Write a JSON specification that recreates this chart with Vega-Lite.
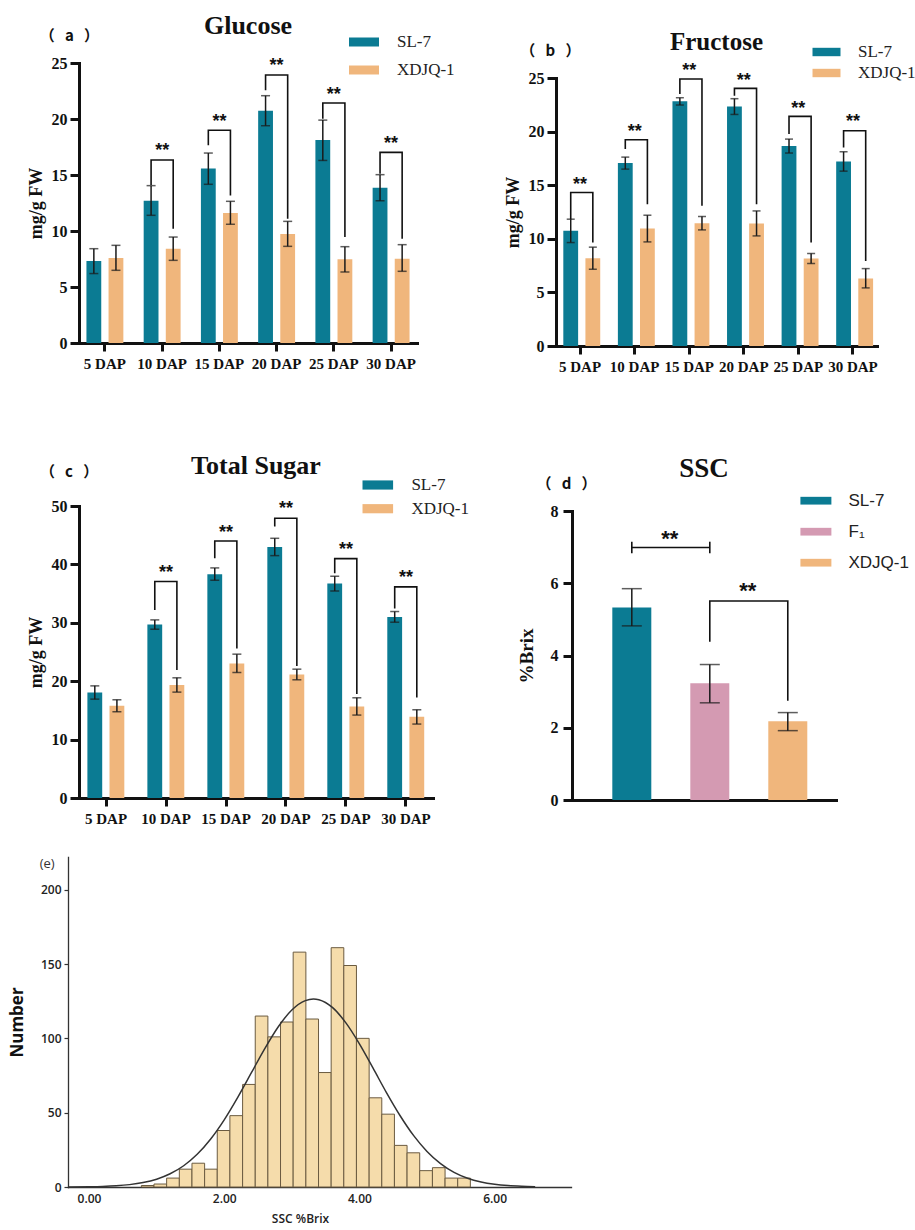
{
  "$schema": "https://vega.github.io/schema/vega-lite/v6.json",
  "background": "white",
  "padding": {"left": 8, "top": 12, "right": 5, "bottom": 5},
  "config": {
    "view": {"stroke": null},
    "axis": {"domainColor": "#111", "domainWidth": 3, "tickColor": "#111", "tickWidth": 3, "labelColor": "#111", "titleColor": "#111", "labelFont": "Liberation Serif", "labelFontWeight": "bold", "titleFont": "Liberation Serif", "titleFontWeight": "bold", "grid": false, "domainCap": "square"},
    "axisX": {"labelFontSize": 15, "tickSize": 8, "labelPadding": 5, "labelAngle": 0},
    "axisY": {"labelFontSize": 16, "tickSize": 9, "labelPadding": 3, "titleFontSize": 18, "titlePadding": 6},
    "legend": {"padding": 0, "symbolStrokeWidth": 0, "labelColor": "#222"}
  },
  "datasets": {
    "glu": [
      {"dap": "5 DAP", "series": "SL-7", "value": 7.32, "lo": 6.2, "hi": 8.42},
      {"dap": "5 DAP", "series": "XDJQ-1", "value": 7.59, "lo": 6.49, "hi": 8.72},
      {"dap": "10 DAP", "series": "SL-7", "value": 12.71, "lo": 11.4, "hi": 14.05},
      {"dap": "10 DAP", "series": "XDJQ-1", "value": 8.42, "lo": 7.38, "hi": 9.46},
      {"dap": "15 DAP", "series": "SL-7", "value": 15.57, "lo": 14.17, "hi": 16.96},
      {"dap": "15 DAP", "series": "XDJQ-1", "value": 11.6, "lo": 10.6, "hi": 12.65},
      {"dap": "20 DAP", "series": "SL-7", "value": 20.74, "lo": 19.4, "hi": 22.08},
      {"dap": "20 DAP", "series": "XDJQ-1", "value": 9.73, "lo": 8.63, "hi": 10.86},
      {"dap": "25 DAP", "series": "SL-7", "value": 18.13, "lo": 16.3, "hi": 19.9},
      {"dap": "25 DAP", "series": "XDJQ-1", "value": 7.47, "lo": 6.34, "hi": 8.6},
      {"dap": "30 DAP", "series": "SL-7", "value": 13.87, "lo": 12.7, "hi": 15.03},
      {"dap": "30 DAP", "series": "XDJQ-1", "value": 7.53, "lo": 6.4, "hi": 8.78}
    ],
    "gluBr": [
      {"dap": "10 DAP", "series": "SL-7", "y": 14.1, "o": 0}, {"dap": "10 DAP", "series": "SL-7", "y": 16.34, "o": 1}, {"dap": "10 DAP", "series": "XDJQ-1", "y": 16.34, "o": 2}, {"dap": "10 DAP", "series": "XDJQ-1", "y": 10.2, "o": 3},
      {"dap": "15 DAP", "series": "SL-7", "y": 17.65, "o": 0}, {"dap": "15 DAP", "series": "SL-7", "y": 18.99, "o": 1}, {"dap": "15 DAP", "series": "XDJQ-1", "y": 18.99, "o": 2}, {"dap": "15 DAP", "series": "XDJQ-1", "y": 13.18, "o": 3},
      {"dap": "20 DAP", "series": "SL-7", "y": 22.56, "o": 0}, {"dap": "20 DAP", "series": "SL-7", "y": 23.93, "o": 1}, {"dap": "20 DAP", "series": "XDJQ-1", "y": 23.93, "o": 2}, {"dap": "20 DAP", "series": "XDJQ-1", "y": 11.1, "o": 3},
      {"dap": "25 DAP", "series": "SL-7", "y": 20.03, "o": 0}, {"dap": "25 DAP", "series": "SL-7", "y": 21.43, "o": 1}, {"dap": "25 DAP", "series": "XDJQ-1", "y": 21.43, "o": 2}, {"dap": "25 DAP", "series": "XDJQ-1", "y": 9.46, "o": 3},
      {"dap": "30 DAP", "series": "SL-7", "y": 15.12, "o": 0}, {"dap": "30 DAP", "series": "SL-7", "y": 17.02, "o": 1}, {"dap": "30 DAP", "series": "XDJQ-1", "y": 17.02, "o": 2}, {"dap": "30 DAP", "series": "XDJQ-1", "y": 9.3, "o": 3}
    ],
    "gluStar": [
      {"dap": "10 DAP", "y": 17.6}, {"dap": "15 DAP", "y": 20.2}, {"dap": "20 DAP", "y": 25.15}, {"dap": "25 DAP", "y": 22.6}, {"dap": "30 DAP", "y": 18.2}
    ],
    "fru": [
      {"dap": "5 DAP", "series": "SL-7", "value": 10.74, "lo": 9.65, "hi": 11.83},
      {"dap": "5 DAP", "series": "XDJQ-1", "value": 8.19, "lo": 7.16, "hi": 9.22},
      {"dap": "10 DAP", "series": "SL-7", "value": 17.06, "lo": 16.5, "hi": 17.62},
      {"dap": "10 DAP", "series": "XDJQ-1", "value": 10.96, "lo": 9.71, "hi": 12.2},
      {"dap": "15 DAP", "series": "SL-7", "value": 22.82, "lo": 22.48, "hi": 23.16},
      {"dap": "15 DAP", "series": "XDJQ-1", "value": 11.46, "lo": 10.83, "hi": 12.08},
      {"dap": "20 DAP", "series": "SL-7", "value": 22.35, "lo": 21.6, "hi": 23.07},
      {"dap": "20 DAP", "series": "XDJQ-1", "value": 11.43, "lo": 10.27, "hi": 12.6},
      {"dap": "25 DAP", "series": "SL-7", "value": 18.65, "lo": 18.0, "hi": 19.3},
      {"dap": "25 DAP", "series": "XDJQ-1", "value": 8.16, "lo": 7.69, "hi": 8.62},
      {"dap": "30 DAP", "series": "SL-7", "value": 17.22, "lo": 16.31, "hi": 18.12},
      {"dap": "30 DAP", "series": "XDJQ-1", "value": 6.29, "lo": 5.42, "hi": 7.22}
    ],
    "fruBr": [
      {"dap": "5 DAP", "series": "SL-7", "y": 11.83, "o": 0}, {"dap": "5 DAP", "series": "SL-7", "y": 14.32, "o": 1}, {"dap": "5 DAP", "series": "XDJQ-1", "y": 14.32, "o": 2}, {"dap": "5 DAP", "series": "XDJQ-1", "y": 9.65, "o": 3},
      {"dap": "10 DAP", "series": "SL-7", "y": 18.37, "o": 0}, {"dap": "10 DAP", "series": "SL-7", "y": 19.24, "o": 1}, {"dap": "10 DAP", "series": "XDJQ-1", "y": 19.24, "o": 2}, {"dap": "10 DAP", "series": "XDJQ-1", "y": 13.23, "o": 3},
      {"dap": "15 DAP", "series": "SL-7", "y": 23.5, "o": 0}, {"dap": "15 DAP", "series": "SL-7", "y": 24.9, "o": 1}, {"dap": "15 DAP", "series": "XDJQ-1", "y": 24.9, "o": 2}, {"dap": "15 DAP", "series": "XDJQ-1", "y": 13.08, "o": 3},
      {"dap": "20 DAP", "series": "SL-7", "y": 23.35, "o": 0}, {"dap": "20 DAP", "series": "SL-7", "y": 24.03, "o": 1}, {"dap": "20 DAP", "series": "XDJQ-1", "y": 24.03, "o": 2}, {"dap": "20 DAP", "series": "XDJQ-1", "y": 13.23, "o": 3},
      {"dap": "25 DAP", "series": "SL-7", "y": 19.77, "o": 0}, {"dap": "25 DAP", "series": "SL-7", "y": 21.42, "o": 1}, {"dap": "25 DAP", "series": "XDJQ-1", "y": 21.42, "o": 2}, {"dap": "25 DAP", "series": "XDJQ-1", "y": 9.65, "o": 3},
      {"dap": "30 DAP", "series": "SL-7", "y": 18.52, "o": 0}, {"dap": "30 DAP", "series": "SL-7", "y": 20.08, "o": 1}, {"dap": "30 DAP", "series": "XDJQ-1", "y": 20.08, "o": 2}, {"dap": "30 DAP", "series": "XDJQ-1", "y": 7.94, "o": 3}
    ],
    "fruStar": [
      {"dap": "5 DAP", "y": 15.47}, {"dap": "10 DAP", "y": 20.46}, {"dap": "15 DAP", "y": 26.1}, {"dap": "20 DAP", "y": 25.2}, {"dap": "25 DAP", "y": 22.57}, {"dap": "30 DAP", "y": 21.33}
    ],
    "tot": [
      {"dap": "5 DAP", "series": "SL-7", "value": 18.07, "lo": 16.93, "hi": 19.2},
      {"dap": "5 DAP", "series": "XDJQ-1", "value": 15.79, "lo": 14.77, "hi": 16.82},
      {"dap": "10 DAP", "series": "SL-7", "value": 29.7, "lo": 28.9, "hi": 30.5},
      {"dap": "10 DAP", "series": "XDJQ-1", "value": 19.33, "lo": 18.13, "hi": 20.58},
      {"dap": "15 DAP", "series": "SL-7", "value": 38.31, "lo": 37.29, "hi": 39.4},
      {"dap": "15 DAP", "series": "XDJQ-1", "value": 23.03, "lo": 21.49, "hi": 24.63},
      {"dap": "20 DAP", "series": "SL-7", "value": 42.99, "lo": 41.5, "hi": 44.47},
      {"dap": "20 DAP", "series": "XDJQ-1", "value": 21.15, "lo": 20.24, "hi": 22.06},
      {"dap": "25 DAP", "series": "SL-7", "value": 36.72, "lo": 35.46, "hi": 37.97},
      {"dap": "25 DAP", "series": "XDJQ-1", "value": 15.68, "lo": 14.2, "hi": 17.16},
      {"dap": "30 DAP", "series": "SL-7", "value": 31.01, "lo": 30.1, "hi": 31.93},
      {"dap": "30 DAP", "series": "XDJQ-1", "value": 13.91, "lo": 12.66, "hi": 15.11}
    ],
    "totBr": [
      {"dap": "10 DAP", "series": "SL-7", "y": 32.2, "o": 0}, {"dap": "10 DAP", "series": "SL-7", "y": 37.06, "o": 1}, {"dap": "10 DAP", "series": "XDJQ-1", "y": 37.06, "o": 2}, {"dap": "10 DAP", "series": "XDJQ-1", "y": 21.9, "o": 3},
      {"dap": "15 DAP", "series": "SL-7", "y": 41.05, "o": 0}, {"dap": "15 DAP", "series": "SL-7", "y": 44.0, "o": 1}, {"dap": "15 DAP", "series": "XDJQ-1", "y": 44.0, "o": 2}, {"dap": "15 DAP", "series": "XDJQ-1", "y": 25.6, "o": 3},
      {"dap": "20 DAP", "series": "SL-7", "y": 46.47, "o": 0}, {"dap": "20 DAP", "series": "SL-7", "y": 47.9, "o": 1}, {"dap": "20 DAP", "series": "XDJQ-1", "y": 47.9, "o": 2}, {"dap": "20 DAP", "series": "XDJQ-1", "y": 22.6, "o": 3},
      {"dap": "25 DAP", "series": "SL-7", "y": 38.48, "o": 0}, {"dap": "25 DAP", "series": "SL-7", "y": 40.99, "o": 1}, {"dap": "25 DAP", "series": "XDJQ-1", "y": 40.99, "o": 2}, {"dap": "25 DAP", "series": "XDJQ-1", "y": 17.8, "o": 3},
      {"dap": "30 DAP", "series": "SL-7", "y": 32.44, "o": 0}, {"dap": "30 DAP", "series": "SL-7", "y": 36.15, "o": 1}, {"dap": "30 DAP", "series": "XDJQ-1", "y": 36.15, "o": 2}, {"dap": "30 DAP", "series": "XDJQ-1", "y": 17.2, "o": 3}
    ],
    "totStar": [
      {"dap": "10 DAP", "y": 39.45}, {"dap": "15 DAP", "y": 46.3}, {"dap": "20 DAP", "y": 50.4}, {"dap": "25 DAP", "y": 43.27}, {"dap": "30 DAP", "y": 38.5}
    ],
    "ssc": [
      {"g": "SL-7", "value": 5.33, "lo": 4.82, "hi": 5.85},
      {"g": "F₁", "value": 3.23, "lo": 2.69, "hi": 3.75},
      {"g": "XDJQ-1", "value": 2.18, "lo": 1.92, "hi": 2.42}
    ],
    "sscBr": [
      {"k": "c1", "g": "SL-7", "y": 6.83, "o": 0}, {"k": "c1", "g": "SL-7", "y": 7.15, "o": 1},
      {"k": "h", "g": "SL-7", "y": 6.99, "o": 0}, {"k": "h", "g": "F₁", "y": 6.99, "o": 1},
      {"k": "c2", "g": "F₁", "y": 6.83, "o": 0}, {"k": "c2", "g": "F₁", "y": 7.15, "o": 1},
      {"k": "b2", "g": "F₁", "y": 4.38, "o": 0}, {"k": "b2", "g": "F₁", "y": 5.51, "o": 1}, {"k": "b2", "g": "XDJQ-1", "y": 5.51, "o": 2}, {"k": "b2", "g": "XDJQ-1", "y": 2.75, "o": 3}
    ],
    "sscStar": [
      {"g": "SL-7", "y": 7.37}, {"g": "F₁", "y": 5.93}
    ],
    "hist": [
      {"x0": 0.774, "x1": 0.961, "n": 1}, {"x0": 0.961, "x1": 1.148, "n": 2}, {"x0": 1.148, "x1": 1.336, "n": 6}, {"x0": 1.336, "x1": 1.523, "n": 12},
      {"x0": 1.523, "x1": 1.71, "n": 16}, {"x0": 1.71, "x1": 1.897, "n": 12}, {"x0": 1.897, "x1": 2.084, "n": 38}, {"x0": 2.084, "x1": 2.272, "n": 48},
      {"x0": 2.272, "x1": 2.459, "n": 69}, {"x0": 2.459, "x1": 2.646, "n": 115}, {"x0": 2.646, "x1": 2.833, "n": 101}, {"x0": 2.833, "x1": 3.02, "n": 111},
      {"x0": 3.02, "x1": 3.208, "n": 158}, {"x0": 3.208, "x1": 3.395, "n": 113}, {"x0": 3.395, "x1": 3.582, "n": 77}, {"x0": 3.582, "x1": 3.769, "n": 161},
      {"x0": 3.769, "x1": 3.956, "n": 149}, {"x0": 3.956, "x1": 4.144, "n": 100}, {"x0": 4.144, "x1": 4.331, "n": 60}, {"x0": 4.331, "x1": 4.518, "n": 49},
      {"x0": 4.518, "x1": 4.705, "n": 28}, {"x0": 4.705, "x1": 4.892, "n": 23}, {"x0": 4.892, "x1": 5.08, "n": 11}, {"x0": 5.08, "x1": 5.267, "n": 13},
      {"x0": 5.267, "x1": 5.454, "n": 6}, {"x0": 5.454, "x1": 5.641, "n": 6}
    ],
    "curve": [
      {"x": -0.3, "y": 0.06}, {"x": 0.0, "y": 0.19}, {"x": 0.2, "y": 0.4}, {"x": 0.4, "y": 0.82}, {"x": 0.6, "y": 1.6}, {"x": 0.8, "y": 2.97},
      {"x": 1.0, "y": 5.26}, {"x": 1.2, "y": 8.89}, {"x": 1.4, "y": 14.3}, {"x": 1.6, "y": 22.0}, {"x": 1.8, "y": 32.3}, {"x": 2.0, "y": 45.2},
      {"x": 2.2, "y": 60.3}, {"x": 2.4, "y": 76.7}, {"x": 2.6, "y": 93.1}, {"x": 2.8, "y": 107.8}, {"x": 3.0, "y": 119.1}, {"x": 3.2, "y": 125.4},
      {"x": 3.32, "y": 126.5}, {"x": 3.4, "y": 126.0}, {"x": 3.6, "y": 120.8}, {"x": 3.8, "y": 110.4}, {"x": 4.0, "y": 96.3}, {"x": 4.2, "y": 80.1},
      {"x": 4.4, "y": 63.5}, {"x": 4.6, "y": 48.1}, {"x": 4.8, "y": 34.7}, {"x": 5.0, "y": 23.9}, {"x": 5.2, "y": 15.7}, {"x": 5.4, "y": 9.83},
      {"x": 5.6, "y": 5.87}, {"x": 5.8, "y": 3.34}, {"x": 6.0, "y": 1.82}, {"x": 6.2, "y": 0.94}, {"x": 6.4, "y": 0.47}, {"x": 6.6, "y": 0.22}
    ]
  },
  "columns": 2,
  "align": "none",
  "bounds": "flush",
  "spacing": {"row": 57, "column": 123},
  "resolve": {"scale": {"color": "independent"}, "legend": {"color": "independent"}},
  "concat": [
    {
      "width": 338, "height": 280,
      "title": {"text": "Glucose", "font": "Liberation Serif", "fontSize": 26, "fontWeight": "bold", "color": "#111", "anchor": "middle", "frame": "group", "offset": -31, "baseline": "alphabetic"},
      "layer": [
        {"data": {"name": "glu"}, "mark": {"type": "bar"},
         "encoding": {
           "x": {"field": "dap", "type": "nominal", "sort": null, "scale": {"domain": ["5 DAP", "10 DAP", "15 DAP", "20 DAP", "25 DAP", "30 DAP"], "paddingInner": 0.355, "paddingOuter": 0.13}, "axis": {"title": null}},
           "xOffset": {"field": "series", "type": "nominal", "scale": {"domain": ["SL-7", "XDJQ-1"], "paddingInner": 0.33}},
           "y": {"field": "value", "type": "quantitative", "scale": {"domain": [0, 25], "nice": false}, "axis": {"title": "mg/g FW", "values": [0, 5, 10, 15, 20, 25]}},
           "color": {"field": "series", "type": "nominal", "scale": {"domain": ["SL-7", "XDJQ-1"], "range": ["#0b7b93", "#f0b67c"]},
             "legend": {"orient": "none", "legendX": 276.5, "legendY": -29.5, "title": null, "symbolType": "M-2,-0.6H2V0.6H-2Z", "symbolSize": 225, "labelFont": "Liberation Serif", "labelFontSize": 17, "labelOffset": 24.5, "rowPadding": 10}}
         }},
        {"data": {"name": "glu"}, "mark": {"type": "rule", "color": "#1a1a1a", "strokeWidth": 1.5},
         "encoding": {"x": {"field": "dap", "type": "nominal", "sort": null, "title": null}, "xOffset": {"field": "series", "type": "nominal"}, "y": {"field": "lo", "type": "quantitative", "title": "mg/g FW"}, "y2": {"field": "hi"}}},
        {"data": {"name": "glu"}, "mark": {"type": "tick", "color": "#1a1a1a", "thickness": 1.5, "size": 9},
         "encoding": {"x": {"field": "dap", "type": "nominal", "sort": null, "title": null}, "xOffset": {"field": "series", "type": "nominal"}, "y": {"field": "lo", "type": "quantitative", "title": "mg/g FW"}}},
        {"data": {"name": "glu"}, "mark": {"type": "tick", "color": "#1a1a1a", "thickness": 1.5, "size": 9},
         "encoding": {"x": {"field": "dap", "type": "nominal", "sort": null, "title": null}, "xOffset": {"field": "series", "type": "nominal"}, "y": {"field": "hi", "type": "quantitative", "title": "mg/g FW"}}},
        {"data": {"name": "gluBr"}, "mark": {"type": "line", "color": "#111", "strokeWidth": 1.6},
         "encoding": {"x": {"field": "dap", "type": "nominal", "sort": null, "title": null}, "xOffset": {"field": "series", "type": "nominal"}, "y": {"field": "y", "type": "quantitative", "title": "mg/g FW"}, "detail": {"field": "dap"}, "order": {"field": "o"}}},
        {"data": {"name": "gluStar"}, "mark": {"type": "text", "text": "**", "font": "Liberation Sans", "fontWeight": "bold", "fontSize": 18, "baseline": "alphabetic", "dy": 10, "color": "#111"},
         "encoding": {"x": {"field": "dap", "type": "nominal", "sort": null, "title": null}, "y": {"field": "y", "type": "quantitative", "title": "mg/g FW"}}},
        {"data": {"values": [{"lab": "（\u00a0\u00a0\u00a0a\u00a0\u00a0\u00a0）"}]}, "mark": {"type": "text", "font": "Noto Sans CJK SC", "fontWeight": "bold", "fontSize": 15, "baseline": "middle", "dx": -35.5, "color": "#111"},
         "encoding": {"text": {"field": "lab"}, "x": {"datum": "5 DAP"}, "y": {"datum": 27.44}}}
      ]
    },
    {
      "width": 321, "height": 283,
      "title": {"text": "Fructose", "font": "Liberation Serif", "fontSize": 25, "fontWeight": "bold", "color": "#111", "anchor": "middle", "frame": "group", "offset": -31, "baseline": "alphabetic"},
      "layer": [
        {"data": {"name": "fru"}, "mark": {"type": "bar"},
         "encoding": {
           "x": {"field": "dap", "type": "nominal", "sort": null, "scale": {"domain": ["5 DAP", "10 DAP", "15 DAP", "20 DAP", "25 DAP", "30 DAP"], "paddingInner": 0.386, "paddingOuter": 0.134}, "axis": {"title": null}},
           "xOffset": {"field": "series", "type": "nominal", "scale": {"domain": ["SL-7", "XDJQ-1"], "paddingInner": 0.33}},
           "y": {"field": "value", "type": "quantitative", "scale": {"domain": [0, 25], "nice": false, "range": [283, 15]}, "axis": {"title": "mg/g FW", "values": [0, 5, 10, 15, 20, 25]}},
           "color": {"field": "series", "type": "nominal", "scale": {"domain": ["SL-7", "XDJQ-1"], "range": ["#0b7b93", "#f0b67c"]},
             "legend": {"orient": "none", "legendX": 262, "legendY": -19.5, "title": null, "symbolType": "M-2,-0.6H2V0.6H-2Z", "symbolSize": 196, "labelFont": "Liberation Serif", "labelFontSize": 17, "labelOffset": 23, "rowPadding": 3}}
         }},
        {"data": {"name": "fru"}, "mark": {"type": "rule", "color": "#1a1a1a", "strokeWidth": 1.5},
         "encoding": {"x": {"field": "dap", "type": "nominal", "sort": null, "title": null}, "xOffset": {"field": "series", "type": "nominal"}, "y": {"field": "lo", "type": "quantitative", "title": "mg/g FW"}, "y2": {"field": "hi"}}},
        {"data": {"name": "fru"}, "mark": {"type": "tick", "color": "#1a1a1a", "thickness": 1.5, "size": 8},
         "encoding": {"x": {"field": "dap", "type": "nominal", "sort": null, "title": null}, "xOffset": {"field": "series", "type": "nominal"}, "y": {"field": "lo", "type": "quantitative", "title": "mg/g FW"}}},
        {"data": {"name": "fru"}, "mark": {"type": "tick", "color": "#1a1a1a", "thickness": 1.5, "size": 8},
         "encoding": {"x": {"field": "dap", "type": "nominal", "sort": null, "title": null}, "xOffset": {"field": "series", "type": "nominal"}, "y": {"field": "hi", "type": "quantitative", "title": "mg/g FW"}}},
        {"data": {"name": "fruBr"}, "mark": {"type": "line", "color": "#111", "strokeWidth": 1.6},
         "encoding": {"x": {"field": "dap", "type": "nominal", "sort": null, "title": null}, "xOffset": {"field": "series", "type": "nominal"}, "y": {"field": "y", "type": "quantitative", "title": "mg/g FW"}, "detail": {"field": "dap"}, "order": {"field": "o"}}},
        {"data": {"name": "fruStar"}, "mark": {"type": "text", "text": "**", "font": "Liberation Sans", "fontWeight": "bold", "fontSize": 18, "baseline": "alphabetic", "dy": 10, "color": "#111"},
         "encoding": {"x": {"field": "dap", "type": "nominal", "sort": null, "title": null}, "y": {"field": "y", "type": "quantitative", "title": "mg/g FW"}}},
        {"data": {"values": [{"lab": "（\u00a0\u00a0\u00a0b\u00a0\u00a0\u00a0）"}]}, "mark": {"type": "text", "font": "Noto Sans CJK SC", "fontWeight": "bold", "fontSize": 15, "baseline": "middle", "dx": -29.7, "color": "#111"},
         "encoding": {"text": {"field": "lab"}, "x": {"datum": "5 DAP"}, "y": {"datum": 27.52}}}
      ]
    },
    {
      "width": 354, "height": 395,
      "title": {"text": "Total Sugar", "font": "Liberation Serif", "fontSize": 26, "fontWeight": "bold", "color": "#111", "anchor": "middle", "frame": "group", "offset": -97, "baseline": "alphabetic"},
      "layer": [
        {"data": {"name": "tot"}, "mark": {"type": "bar"},
         "encoding": {
           "x": {"field": "dap", "type": "nominal", "sort": null, "scale": {"domain": ["5 DAP", "10 DAP", "15 DAP", "20 DAP", "25 DAP", "30 DAP"], "paddingInner": 0.378, "paddingOuter": 0.14}, "axis": {"title": null}},
           "xOffset": {"field": "series", "type": "nominal", "scale": {"domain": ["SL-7", "XDJQ-1"], "paddingInner": 0.33}},
           "y": {"field": "value", "type": "quantitative", "scale": {"domain": [0, 50], "nice": false, "range": [395, 103]}, "axis": {"title": "mg/g FW", "values": [0, 10, 20, 30, 40, 50]}},
           "color": {"field": "series", "type": "nominal", "scale": {"domain": ["SL-7", "XDJQ-1"], "range": ["#0b7b93", "#f0b67c"]},
             "legend": {"orient": "none", "legendX": 290.3, "legendY": 73.5, "title": null, "symbolType": "M-2,-0.6H2V0.6H-2Z", "symbolSize": 234, "labelFont": "Liberation Serif", "labelFontSize": 17, "labelOffset": 25.1, "rowPadding": 5.7}}
         }},
        {"data": {"name": "tot"}, "mark": {"type": "rule", "color": "#1a1a1a", "strokeWidth": 1.5},
         "encoding": {"x": {"field": "dap", "type": "nominal", "sort": null, "title": null}, "xOffset": {"field": "series", "type": "nominal"}, "y": {"field": "lo", "type": "quantitative", "title": "mg/g FW"}, "y2": {"field": "hi"}}},
        {"data": {"name": "tot"}, "mark": {"type": "tick", "color": "#1a1a1a", "thickness": 1.5, "size": 9},
         "encoding": {"x": {"field": "dap", "type": "nominal", "sort": null, "title": null}, "xOffset": {"field": "series", "type": "nominal"}, "y": {"field": "lo", "type": "quantitative", "title": "mg/g FW"}}},
        {"data": {"name": "tot"}, "mark": {"type": "tick", "color": "#1a1a1a", "thickness": 1.5, "size": 9},
         "encoding": {"x": {"field": "dap", "type": "nominal", "sort": null, "title": null}, "xOffset": {"field": "series", "type": "nominal"}, "y": {"field": "hi", "type": "quantitative", "title": "mg/g FW"}}},
        {"data": {"name": "totBr"}, "mark": {"type": "line", "color": "#111", "strokeWidth": 1.6},
         "encoding": {"x": {"field": "dap", "type": "nominal", "sort": null, "title": null}, "xOffset": {"field": "series", "type": "nominal"}, "y": {"field": "y", "type": "quantitative", "title": "mg/g FW"}, "detail": {"field": "dap"}, "order": {"field": "o"}}},
        {"data": {"name": "totStar"}, "mark": {"type": "text", "text": "**", "font": "Liberation Sans", "fontWeight": "bold", "fontSize": 18, "baseline": "alphabetic", "dy": 10, "color": "#111"},
         "encoding": {"x": {"field": "dap", "type": "nominal", "sort": null, "title": null}, "y": {"field": "y", "type": "quantitative", "title": "mg/g FW"}}},
        {"data": {"values": [{"lab": "（\u00a0\u00a0\u00a0c\u00a0\u00a0\u00a0）"}]}, "mark": {"type": "text", "font": "Noto Sans CJK SC", "fontWeight": "bold", "fontSize": 15, "baseline": "middle", "dx": -37, "color": "#111"},
         "encoding": {"text": {"field": "lab"}, "x": {"datum": "5 DAP"}, "y": {"datum": 55.8}}}
      ]
    },
    {
      "width": 264, "height": 397,
      "title": {"text": "SSC", "font": "Liberation Serif", "fontSize": 27, "fontWeight": "bold", "color": "#111", "anchor": "middle", "frame": "group", "offset": -101, "dx": 16, "baseline": "alphabetic"},
      "layer": [
        {"data": {"name": "ssc"}, "mark": {"type": "bar"},
         "encoding": {
           "x": {"field": "g", "type": "nominal", "sort": null, "scale": {"domain": ["SL-7", "F₁", "XDJQ-1"], "range": [16, 280], "paddingInner": 0.5, "paddingOuter": 0.4425, "align": 0.584}, "axis": {"title": null, "labels": false, "ticks": false}},
           "y": {"field": "value", "type": "quantitative", "scale": {"domain": [0, 8], "nice": false, "range": [397, 108]}, "axis": {"title": "%Brix", "values": [0, 2, 4, 6, 8], "offset": -16, "titleFontSize": 19, "titlePadding": 14, "labelPadding": 5}},
           "color": {"field": "g", "type": "nominal", "scale": {"domain": ["SL-7", "F₁", "XDJQ-1"], "range": ["#0b7b93", "#d49ab2", "#f0b67c"]},
             "legend": {"orient": "none", "legendX": 251.4, "legendY": 89.2, "title": null, "symbolType": "M-2,-0.5H2V0.5H-2Z", "symbolSize": 240, "labelFont": "Liberation Sans", "labelFontSize": 17, "labelOffset": 24.1, "rowPadding": 13}}
         }},
        {"data": {"name": "ssc"}, "mark": {"type": "rule", "color": "#1a1a1a", "strokeWidth": 1.5},
         "encoding": {"x": {"field": "g", "type": "nominal", "sort": null, "title": null}, "y": {"field": "lo", "type": "quantitative", "title": "%Brix"}, "y2": {"field": "hi"}}},
        {"data": {"name": "ssc"}, "mark": {"type": "tick", "color": "#1a1a1a", "thickness": 1.5, "size": 20},
         "encoding": {"x": {"field": "g", "type": "nominal", "sort": null, "title": null}, "y": {"field": "lo", "type": "quantitative", "title": "%Brix"}}},
        {"data": {"name": "ssc"}, "mark": {"type": "tick", "color": "#1a1a1a", "thickness": 1.5, "size": 20},
         "encoding": {"x": {"field": "g", "type": "nominal", "sort": null, "title": null}, "y": {"field": "hi", "type": "quantitative", "title": "%Brix"}}},
        {"data": {"name": "sscBr"}, "mark": {"type": "line", "color": "#111", "strokeWidth": 1.6},
         "encoding": {"x": {"field": "g", "type": "nominal", "sort": null, "title": null}, "y": {"field": "y", "type": "quantitative", "title": "%Brix"}, "detail": {"field": "k"}, "order": {"field": "o"}}},
        {"data": {"name": "sscStar"}, "mark": {"type": "text", "text": "**", "font": "Liberation Sans", "fontWeight": "bold", "fontSize": 22, "baseline": "alphabetic", "dy": 12.6, "dx": 38, "color": "#111"},
         "encoding": {"x": {"field": "g", "type": "nominal", "sort": null, "title": null}, "y": {"field": "y", "type": "quantitative", "title": "%Brix"}}},
        {"data": {"values": [{"lab": "（\u00a0\u00a0\u00a0d\u00a0\u00a0\u00a0）"}]}, "mark": {"type": "text", "font": "Noto Sans CJK SC", "fontWeight": "bold", "fontSize": 15, "baseline": "middle", "dx": -65.3, "color": "#111"},
         "encoding": {"text": {"field": "lab"}, "x": {"datum": "SL-7"}, "y": {"datum": 8.75}}}
      ]
    },
    {
      "width": 338, "height": 330,
      "layer": [
        {"data": {"name": "hist"}, "mark": {"type": "bar", "fill": "#f5dcab", "stroke": "#6b5b40", "strokeWidth": 1},
         "encoding": {
           "x": {"field": "x0", "type": "quantitative", "scale": {"domain": [-0.311, 7.13], "range": [-11, 492], "nice": false, "zero": false},
             "axis": {"title": "SSC  %Brix", "titleX": 221, "values": [0, 2, 4, 6], "format": ".2f", "ticks": false, "labelFont": "Open Sans", "labelFontWeight": 600, "labelFontSize": 12, "labelColor": "#222", "labelPadding": 6, "domainColor": "#333", "domainWidth": 1.3, "titleFont": "Open Sans", "titleFontWeight": 600, "titleFontSize": 12, "titleColor": "#222", "titlePadding": 9}},
           "x2": {"field": "x1"},
           "y": {"field": "n", "type": "quantitative", "scale": {"domain": [0, 222], "nice": false},
             "axis": {"title": "Number", "values": [0, 50, 100, 150, 200], "offset": 11, "tickSize": 4, "tickWidth": 1.2, "tickColor": "#333", "domainColor": "#333", "domainWidth": 1.3, "labelFont": "Open Sans", "labelFontWeight": 600, "labelFontSize": 12, "labelColor": "#222", "labelPadding": 3, "titleFont": "Open Sans", "titleFontWeight": "bold", "titleFontSize": 17, "titleColor": "#111", "titlePadding": 14}},
           "y2": {"datum": 0}
         }},
        {"data": {"name": "curve"}, "mark": {"type": "line", "color": "#333", "strokeWidth": 1.5, "interpolate": "monotone"},
         "encoding": {"x": {"field": "x", "type": "quantitative", "title": "SSC  %Brix"}, "y": {"field": "y", "type": "quantitative", "title": "Number"}}},
        {"data": {"values": [{"lab": "(e)"}]}, "mark": {"type": "text", "font": "Open Sans", "fontSize": 13, "baseline": "middle", "color": "#333"},
         "encoding": {"text": {"field": "lab"}, "x": {"datum": -0.62}, "y": {"datum": 217.4}}}
      ]
    }
  ]
}
